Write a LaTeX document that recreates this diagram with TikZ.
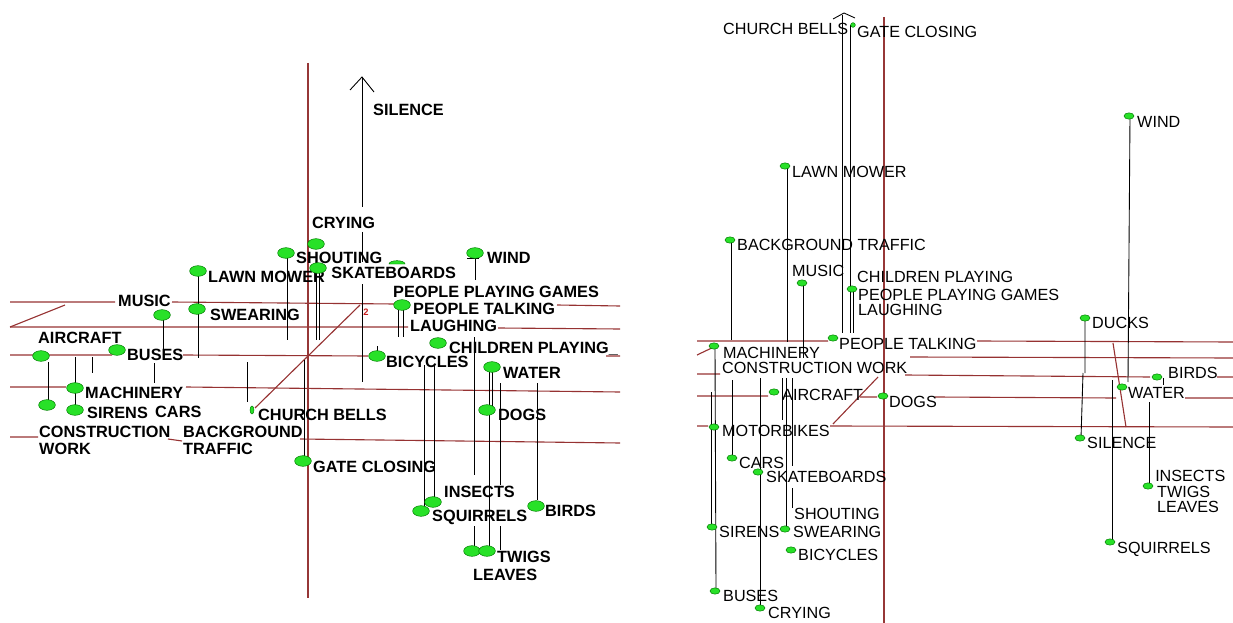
\documentclass[tikz,border=0pt]{standalone}
\usepackage{fontspec}
\setmainfont{Liberation Sans}
\begin{document}
\begin{tikzpicture}[x=0.03cm,y=-0.03cm,
  rl/.style={draw={rgb,255:red,150;green,50;blue,50}, line width=0.95pt},
  rv/.style={draw={rgb,255:red,150;green,55;blue,55}, line width=1.05pt},
  bl/.style={draw=black, line width=0.75pt},
  ltxt/.style={anchor=west, inner sep=0pt, font=\fontsize{13.9}{14}\selectfont\bfseries, text height=9.9pt, text depth=0pt},
  rtxt/.style={anchor=west, inner sep=0pt, font=\fontsize{13.8}{14}\selectfont, text height=9.9pt, text depth=0pt},
  blobL/.style={fill={rgb,255:red,40;green,225;blue,40}, draw={rgb,255:red,0;green,120;blue,0}, line width=0.4pt},
]
\useasboundingbox (0,0) rectangle (1233,623);
\newcommand\bL[2]{\path[blobL] (#1,#2) ellipse [x radius=0.25cm, y radius=0.16cm];}
\newcommand\bR[2]{\path[blobL] (#1,#2) ellipse [x radius=0.15cm, y radius=0.095cm];}

% ---------- LEFT PANEL: red grid ----------
\draw[rl] (10,302)--(115,302) (172,302)--(395,304) (557,305)--(620,306);
\draw[rl] (10,327)--(408,327) (498,328)--(620,329);
\draw[rl] (10,355)--(112,355) (183,355)--(368,356) (606,356)--(620,356);
\draw[rl] (10,387)--(66,387) (186,387)--(620,392);
\draw[rl] (10,437)--(38,437) (168,439)--(182,441) (300,439)--(620,443);
\draw[rl] (10,327)--(65,305);
\draw[rl] (360,305)--(255,408);
\draw[rv] (308,63)--(308,598);
\node[text={rgb,255:red,200;green,30;blue,30}, font=\fontsize{8}{8}\selectfont\bfseries, inner sep=0pt] (two) at (366,312) {2};

% ---------- LEFT PANEL: black stems ----------
\draw[bl] (48,362)--(48,403);
\draw[bl] (75,357)--(75,410);
\draw[bl] (92,357)--(92,373);
\draw[bl] (154,363)--(154,383);
\draw[bl] (163,315)--(163,354);
\draw[bl] (198,271)--(198,358);
\draw[bl] (247,362)--(247,402);
\draw[bl] (287,253)--(287,340);
\draw[bl] (304,360)--(304,461);
\draw[bl] (316,268)--(316,340) (319,268)--(319,340);
\draw[bl] (362,77)--(362,207) (362,232)--(362,262) (362,284)--(362,382);
\draw[bl] (350,90)--(362,77)--(374,92);
\draw[bl] (398,310)--(398,337) (403,310)--(403,337);
\draw[bl] (377,346)--(377,352);
\draw[bl] (424,365)--(424,507) (434,365)--(434,497);
\draw[bl] (475,253)--(475,280) (467,258)--(479,258);
\draw[bl] (474,337)--(474,475) (474,526)--(474,548);
\draw[bl] (489,370)--(489,548) (492,370)--(492,410);
\draw[bl] (500,383)--(500,485) (500,526)--(500,550);
\draw[bl] (537,383)--(537,500);

% ---------- LEFT PANEL: texts ----------
\node[ltxt] (lsil) at (373,110) {SILENCE};
\node[ltxt] (lcry) at (312,223) {CRYING};
\node[ltxt] (lsho) at (296,258) {SHOUTING};
\node[ltxt] (llaw) at (208,277) {LAWN MOWER};
\node[ltxt, fill=white, inner xsep=1pt] (lska) at (330,273) {SKATEBOARDS};
\node[ltxt] (lwin) at (487,258) {WIND};
\node[ltxt] (lmus) at (118,301) {MUSIC};
\node[ltxt] (lswe) at (210,315) {SWEARING};
\node[ltxt] (lppg) at (393,292) {PEOPLE PLAYING GAMES};
\node[ltxt] (lpt) at (413,309) {PEOPLE TALKING};
\node[ltxt] (llau) at (410,326) {LAUGHING};
\node[ltxt] (lair) at (38,338) {AIRCRAFT};
\node[ltxt] (lbus) at (127,355) {BUSES};
\node[ltxt] (lbic) at (386,362) {BICYCLES};
\node[ltxt] (lchi) at (449,348) {CHILDREN PLAYING\_};
\node[ltxt] (lwat) at (503,373) {WATER};
\node[ltxt] (lmac) at (85,393) {MACHINERY};
\node[ltxt] (lsir) at (87,413) {SIRENS};
\node[ltxt] (lcar) at (155,412) {CARS};
\node[ltxt] (lchu) at (258,415) {CHURCH BELLS};
\node[ltxt] (ldog) at (498,415) {DOGS};
\node[ltxt] (lcon) at (39,432) {CONSTRUCTION};
\node[ltxt] (lwor) at (39,449) {WORK};
\node[ltxt] (lbac) at (183,432) {BACKGROUND};
\node[ltxt] (ltra) at (183,449) {TRAFFIC};
\node[ltxt] (lgat) at (313,467) {GATE CLOSING};
\node[ltxt] (lins) at (444,492) {INSECTS};
\node[ltxt] (lsqu) at (432,516) {SQUIRRELS};
\node[ltxt] (lbir) at (545,511) {BIRDS};
\node[ltxt] (ltwi) at (497,557) {TWIGS};
\node[ltxt] (llea) at (473,575) {LEAVES};

% ---------- LEFT PANEL: blobs ----------
\bL{41}{356} \bL{47}{405} \bL{75}{388} \bL{75}{410} \bL{117}{350}
\bL{162}{315} \bL{198}{271} \bL{197}{309} \bL{286}{253} \bL{316}{244}
\bL{318}{268} \bL{475}{253} \bL{402}{305} \bL{377}{356}
\bL{438}{343} \bL{492}{367} \bL{487}{410} \bL{303}{461} \bL{433}{502}
\bL{421}{511} \bL{536}{506} \bL{472}{551} \bL{487}{551}
\path[blobL] (389,264) arc[start angle=180, end angle=0, x radius=0.24cm, y radius=0.1cm] -- cycle;
\path[blobL] (252,410) ellipse [x radius=0.06cm, y radius=0.12cm];

% ---------- RIGHT PANEL: red grid ----------
\draw[rl] (697,341)--(828,341) (977,341)--(1233,342);
\draw[rl] (910,357)--(1233,358);
\draw[rl] (697,374)--(720,374) (905,375)--(1150,377) (1217,377)--(1233,377);
\draw[rl] (697,396)--(768,396) (860,397)--(877,397) (935,397)--(1116,398) (1185,398)--(1233,398);
\draw[rl] (697,426)--(708,426) (830,426)--(1233,427);
\draw[rl] (697,355)--(718,345);
\draw[rl] (833,424)--(878,377);
\draw[rl] (1113,343)--(1126,427);
\draw[rv] (884,17)--(884,623);

% ---------- RIGHT PANEL: black stems ----------
\draw[bl] (842,15)--(842,333) (850,25)--(850,333) (853,289)--(853,333);
\draw[bl] (833,19)--(844,13)--(855,18);
\draw[bl] (787,166)--(787,342);
\draw[bl] (731,240)--(731,340) (732,380)--(732,458);
\draw[bl] (803,283)--(803,358);
\draw[bl] (782,378)--(782,420);
\draw[bl] (786,378)--(786,527);
\draw[bl] (792,378)--(792,466) (792,488)--(792,508);
\draw[bl] (760,378)--(760,608);
\draw[bl] (711,392)--(711,527);
\draw[bl] (715,347)--(716,591);
\draw[bl] (1130,116)--(1128,382);
\draw[bl] (1085,318)--(1085,373) (1083,373)--(1081,438);
\draw[bl] (1112,380)--(1112,542);
\draw[bl] (1149,402)--(1149,486);
\draw[bl] (1163,378)--(1163,385);

% ---------- RIGHT PANEL: texts ----------
\node[rtxt] (rchu) at (723,29) {CHURCH BELLS};
\node[rtxt] (rgat) at (857,32) {GATE CLOSING};
\node[rtxt] (rlaw) at (792,172) {LAWN MOWER};
\node[rtxt] (rbac) at (737,245) {BACKGROUND TRAFFIC};
\node[rtxt] (rmus) at (792,271) {MUSIC};
\node[rtxt] (rchi) at (857,277) {CHILDREN PLAYING};
\node[rtxt] (rppg) at (858,295) {PEOPLE PLAYING GAMES};
\node[rtxt] (rlau) at (858,310) {LAUGHING};
\node[rtxt] (rpt) at (839,344) {PEOPLE TALKING};
\node[rtxt] (rmac) at (723,353) {MACHINERY};
\node[rtxt] (rcon) at (722,368) {CONSTRUCTION WORK};
\node[rtxt] (rair) at (782,395) {AIRCRAFT};
\node[rtxt] (rdog) at (889,402) {DOGS};
\node[rtxt] (rmot) at (722,431) {MOTORBIKES};
\node[rtxt] (rcar) at (739,463) {CARS};
\node[rtxt] (rska) at (766,477) {SKATEBOARDS};
\node[rtxt] (rsho) at (794,514) {SHOUTING};
\node[rtxt] (rsir) at (719,532) {SIRENS};
\node[rtxt] (rswe) at (793,532) {SWEARING};
\node[rtxt] (rbic) at (798,555) {BICYCLES};
\node[rtxt] (rbus) at (723,596) {BUSES};
\node[rtxt] (rcry) at (768,613) {CRYING};
\node[rtxt] (rwin) at (1137,122) {WIND};
\node[rtxt] (rduc) at (1092,323) {DUCKS};
\node[rtxt] (rbir) at (1168,373) {BIRDS};
\node[rtxt] (rwat) at (1128,393) {WATER};
\node[rtxt] (rsil) at (1087,443) {SILENCE};
\node[rtxt] (rins) at (1155,476) {INSECTS};
\node[rtxt] (rtwi) at (1157,492) {TWIGS};
\node[rtxt] (rlea) at (1157,507) {LEAVES};
\node[rtxt] (rsqu) at (1117,548) {SQUIRRELS};

% ---------- RIGHT PANEL: blobs ----------
\bR{785}{166} \bR{730}{240} \bR{802}{283} \bR{852}{289}
\bR{833}{338} \bR{714}{346} \bR{774}{392} \bR{883}{396} \bR{714}{427}
\bR{732}{458} \bR{758}{472} \bR{712}{527} \bR{785}{529} \bR{791}{550}
\bR{715}{591} \bR{760}{608} \bR{1129}{116} \bR{1085}{318} \bR{1157}{377}
\bR{1122}{387} \bR{1080}{438} \bR{1148}{486} \bR{1110}{542}
\path[blobL] (853,25) ellipse [x radius=0.07cm, y radius=0.07cm];
\end{tikzpicture}
\end{document}
